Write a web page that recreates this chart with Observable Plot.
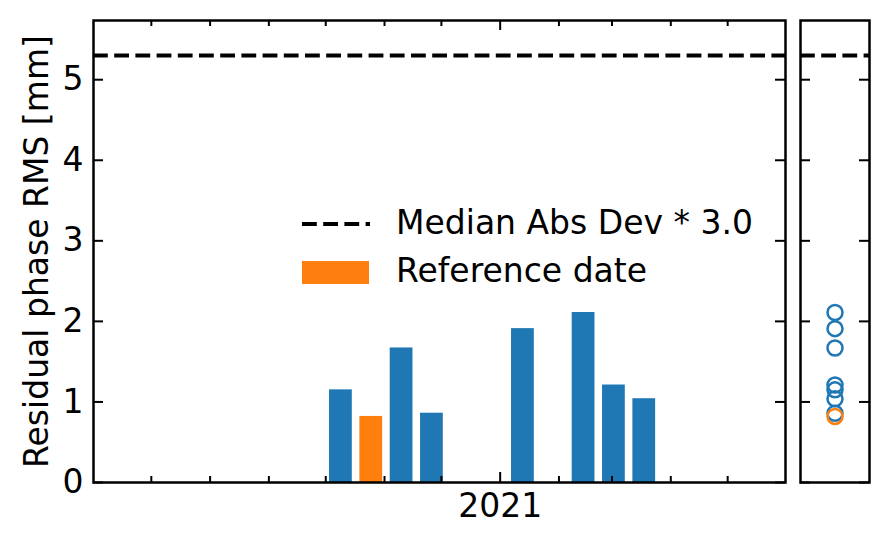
<!DOCTYPE html>
<html><head><meta charset="utf-8">
<script src="https://cdn.jsdelivr.net/npm/d3@7"></script>
<script src="https://cdn.jsdelivr.net/npm/@observablehq/plot@0.6"></script>
<style>
body{margin:0;background:#fff;}
#wrap{position:relative;width:890px;height:545px;font-family:"DejaVu Sans";overflow:hidden;}
#wrap > svg{position:absolute;top:0;}
</style></head><body><div id="wrap"></div>
<script>
// ---- data ----
const dates = ["2020-10-09","2020-10-25","2020-11-10","2020-11-26","2021-01-13","2021-02-14","2021-03-02","2021-03-18"];
const rms = [1.15, 0.82, 1.67, 0.86, 1.91, 2.11, 1.21, 1.04];
const isReference = [false, true, false, false, false, false, false, false];
const threshold = 5.3;
const yTicks = [0, 1, 2, 3, 4, 5];
const yTickLabels = ["0", "1", "2", "3", "4", "5"];
const monthTicks = ["2020-07-01","2020-08-01","2020-09-01","2020-10-01","2020-11-01","2020-12-01","2021-02-01","2021-03-01","2021-04-01","2021-05-01"];
const yearTicks = ["2021-01-01"];
const yearLabels = ["2021"];
const yLabel = "Residual phase RMS [mm]";
const legendLabels = ["Median Abs Dev * 3.0", "Reference date"];
const xDomain = ["2020-05-31T12:00Z", "2021-05-31T12:00Z"];
const yDomain = [0, 5.735];

const BLUE = "#1f77b4", ORANGE = "#ff7f0e";
const DAY = 864e5;
const FS = 33;
const rows = dates.map((d, i) => ({date: new Date(d), rms: rms[i], ref: isReference[i]}));
const months = monthTicks.map(d => new Date(d));
const years = yearTicks.map((d, i) => ({date: new Date(d), label: yearLabels[i]}));
const yt = yTicks.map((v, i) => ({v, label: yTickLabels[i]}));

const W = 800, H = 545, mL = 93, mR = 15, mT = 20, mB = 63;
const innerH = H - mT - mB, innerW = W - mL - mR;
const font = {fontFamily: "DejaVu Sans", fontSize: FS + "px", color: "#000", background: "transparent", overflow: "visible"};
const dash = {stroke: "#000", strokeWidth: 4, strokeDasharray: "14.8,6.4"};

const main = Plot.plot({
  width: W, height: H, marginLeft: mL, marginRight: mR, marginTop: mT, marginBottom: mB,
  style: font,
  x: {type: "utc", domain: xDomain.map(d => new Date(d)), axis: null},
  y: {domain: yDomain, axis: null},
  marks: [
    Plot.rectY(rows.filter(d => !d.ref), {x1: d => new Date(+d.date - 6 * DAY), x2: d => new Date(+d.date + 6 * DAY), y1: 0, y2: "rms", fill: BLUE}),
    Plot.rectY(rows.filter(d => d.ref), {x1: d => new Date(+d.date - 6 * DAY), x2: d => new Date(+d.date + 6 * DAY), y1: 0, y2: "rms", fill: ORANGE}),
    Plot.ruleY([threshold], dash),
    Plot.ruleX(months, {x: d => d, insetTop: innerH - 6, stroke: "#000", strokeWidth: 2}),
    Plot.ruleX(months, {x: d => d, insetBottom: innerH - 6, stroke: "#000", strokeWidth: 2}),
    Plot.ruleX(years, {x: "date", insetTop: innerH - 10, stroke: "#000", strokeWidth: 2}),
    Plot.ruleX(years, {x: "date", insetBottom: innerH - 10, stroke: "#000", strokeWidth: 2}),
    Plot.ruleY(yt, {y: "v", insetRight: innerW - 10, stroke: "#000", strokeWidth: 2}),
    Plot.ruleY(yt, {y: "v", insetLeft: innerW - 10, stroke: "#000", strokeWidth: 2}),
    Plot.frame({stroke: "#000", strokeWidth: 2.5}),
    Plot.text(yt, {y: "v", text: "label", frameAnchor: "left", textAnchor: "end", dx: -10, fontSize: FS, fill: "#000"}),
    Plot.text(years, {x: "date", text: "label", frameAnchor: "bottom", lineAnchor: "top", dy: 11, fontSize: FS, fill: "#000"}),
    Plot.text([yLabel], {text: d => d, frameAnchor: "left", textAnchor: "middle", rotate: -90, dx: -56, fontSize: FS, fill: "#000"})
  ]
});
main.style.left = "0px";

const sW = 95, sL = 5, sR = 21;
const sInnerW = sW - sL - sR;
const side = Plot.plot({
  width: sW, height: H, marginLeft: sL, marginRight: sR, marginTop: mT, marginBottom: mB,
  style: font,
  y: {domain: yDomain, axis: null},
  marks: [
    Plot.ruleY([threshold], dash),
    Plot.ruleY(yt, {y: "v", insetRight: sInnerW - 10, stroke: "#000", strokeWidth: 2}),
    Plot.ruleY(yt, {y: "v", insetLeft: sInnerW - 10, stroke: "#000", strokeWidth: 2}),
    Plot.frame({stroke: "#000", strokeWidth: 2.5}),
    Plot.dot(rows.filter(d => !d.ref), {y: "rms", r: 7.5, stroke: BLUE, strokeWidth: 2.5, fill: "none"}),
    Plot.dot(rows.filter(d => d.ref), {y: "rms", r: 7.5, stroke: ORANGE, strokeWidth: 2.5, fill: "none"})
  ]
});
side.style.left = "795px";

const wrap = document.getElementById("wrap");
wrap.appendChild(main);
wrap.appendChild(side);

// legend overlay
const leg = d3.select(wrap).append("svg").attr("width", 890).attr("height", 545).style("left", "0px")
  .style("font-family", "DejaVu Sans").style("font-size", FS + "px");
leg.append("line").attr("x1", 302).attr("x2", 370).attr("y1", 224).attr("y2", 224)
  .attr("stroke", "#000").attr("stroke-width", 4).attr("stroke-dasharray", "14.8,6.4");
leg.append("rect").attr("x", 302).attr("y", 261).attr("width", 67).attr("height", 23).attr("fill", ORANGE);
leg.append("text").attr("x", 396).attr("y", 234).text(legendLabels[0]);
leg.append("text").attr("x", 396).attr("y", 282).text(legendLabels[1]);
</script></body></html>
